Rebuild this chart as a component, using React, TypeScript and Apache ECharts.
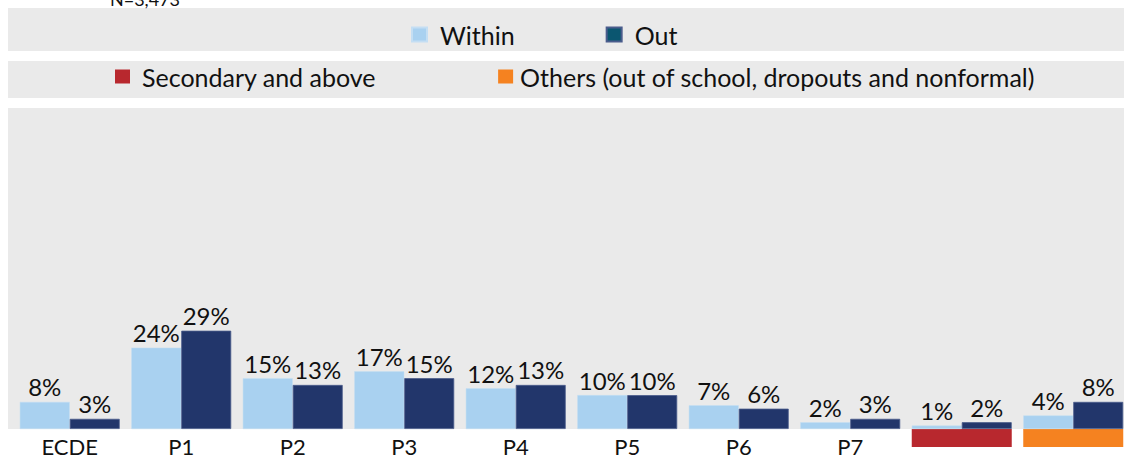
import React, { useEffect, useRef } from "react";
import * as echarts from "echarts";

const categories = ["ECDE", "P1", "P2", "P3", "P4", "P5", "P6", "P7", "Secondary and above", "Others"];
const withinValues = [8, 24, 15, 17, 12, 10, 7, 2, 1, 4];
const outValues = [3, 29, 13, 15, 13, 10, 6, 3, 2, 8];
const legendTop = ["Within", "Out"];
const legendBottom = ["Secondary and above", "Others (out of school, dropouts and nonformal)"];
const noteText = "N=3,473";

const FONT = "Lato";
const GRAY = "#EAEAEA";
const C_WITHIN = "#A9D1F0";
const C_OUT = "#22366B";
const C_OUT_LEGEND = "#0B5670";
const C_SEC = "#B8282E";
const C_OTH = "#F58220";

export default function App() {
  const ref = useRef<HTMLDivElement>(null);
  useEffect(() => {
    document.body.style.margin = "0";
    const chart = echarts.init(ref.current!, null, { renderer: "svg" });
    const labelStyle = {
      show: true,
      position: "top" as const,
      distance: 3,
      fontFamily: FONT,
      fontSize: 24,
      color: "#111",
      formatter: (p: any) => p.value + "%",
    };
    chart.setOption({
      animation: false,
      backgroundColor: "#fff",
      graphic: [
        { type: "rect", shape: { x: 8, y: 8, width: 1116, height: 43 }, style: { fill: GRAY }, z: -10 },
        { type: "rect", shape: { x: 8, y: 61, width: 1116, height: 37 }, style: { fill: GRAY }, z: -10 },
        { type: "rect", shape: { x: 8, y: 108, width: 1116, height: 321 }, style: { fill: GRAY }, z: -10 },
        {
          type: "text",
          x: 110,
          y: 8,
          style: { text: noteText, fontFamily: FONT, fontSize: 18, fill: "#111", textVerticalAlign: "bottom" },
        },
      ],
      legend: [
        {
          left: 411,
          top: 22,
          padding: 0,
          icon: "rect",
          itemWidth: 15,
          itemHeight: 14,
          itemGap: 91,
          textStyle: { fontFamily: FONT, fontSize: 25, color: "#111", padding: [0, 0, 0, 8] },
          data: [
            { name: legendTop[0], itemStyle: { color: C_WITHIN } },
            { name: legendTop[1], itemStyle: { color: C_OUT_LEGEND } },
          ],
        },
        {
          left: 115,
          top: 64,
          padding: 0,
          icon: "rect",
          itemWidth: 15,
          itemHeight: 14,
          itemGap: 122,
          textStyle: { fontFamily: FONT, fontSize: 25, color: "#111" },
          data: [
            { name: legendBottom[0], itemStyle: { color: C_SEC }, textStyle: { padding: [0, 0, 0, 7] } },
            { name: legendBottom[1], itemStyle: { color: C_OTH }, textStyle: { padding: [0, 0, 0, 2] } },
          ],
        },
      ],
      grid: { left: 14, width: 1115, top: 90, bottom: 32, containLabel: false, outerBoundsMode: "none" },
      xAxis: {
        type: "category",
        data: categories,
        axisLine: { show: false },
        axisTick: { show: false },
        axisLabel: {
          margin: 0,
          interval: 0,
          hideOverlap: false,
          formatter: (v: string) => {
            if (v === categories[8]) return "{sec| }";
            if (v === categories[9]) return "{oth| }";
            return "{n|" + v + "}";
          },
          rich: {
            n: { fontFamily: FONT, fontSize: 22, lineHeight: 22, color: "#111", padding: [12, 0, 0, 0] },
            sec: { backgroundColor: C_SEC, width: 100, height: 18, lineHeight: 18 },
            oth: { backgroundColor: C_OTH, width: 100, height: 18, lineHeight: 18 },
          },
        },
      },
      yAxis: { type: "value", min: 0, max: 100, show: false, splitLine: { show: false } },
      series: [
        {
          name: legendTop[0],
          type: "bar",
          data: withinValues,
          barGap: "0%",
          barCategoryGap: "10.4%",
          itemStyle: { color: C_WITHIN, borderColor: "#C4DEF3", borderWidth: 0.5 },
          label: labelStyle,
        },
        {
          name: legendTop[1],
          type: "bar",
          data: outValues,
          itemStyle: { color: C_OUT, borderColor: "#4A5C8C", borderWidth: 0.8 },
          label: labelStyle,
        },
        { name: legendBottom[0], type: "line", data: [], itemStyle: { color: C_SEC } },
        { name: legendBottom[1], type: "line", data: [], itemStyle: { color: C_OTH } },
      ],
    });
    return () => chart.dispose();
  }, []);
  return <div ref={ref} style={{ width: 1124, height: 461 }} />;
}
